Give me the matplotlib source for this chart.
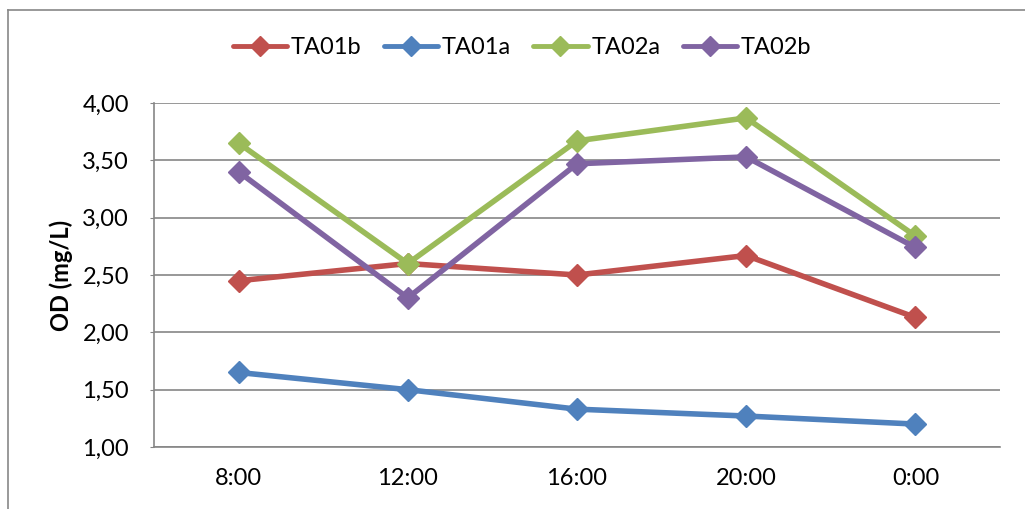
import numpy as np
import matplotlib.pyplot as plt
from matplotlib.lines import Line2D
from matplotlib.ticker import FuncFormatter

plt.rcParams['font.family'] = ['Lato', 'DejaVu Sans']

times = ['8:00', '12:00', '16:00', '20:00', '0:00']
ta01b = [2.45, 2.60, 2.50, 2.67, 2.13]
ta01a = [1.65, 1.50, 1.33, 1.27, 1.20]
ta02a = [3.65, 2.60, 3.67, 3.87, 2.84]
ta02b = [3.40, 2.30, 3.47, 3.53, 2.74]

series = [('TA01b', ta01b, '#C0504D'),
          ('TA01a', ta01a, '#4F81BD'),
          ('TA02a', ta02a, '#9BBB59'),
          ('TA02b', ta02b, '#8064A2')]

fs = 17

fig = plt.figure(figsize=(10.25, 5.09), dpi=100)
ax = fig.add_axes([154/1025, 1 - 447/509, (1000-154)/1025, (447-103)/509])

# outer chart frame (only left + top visible in the crop)
fig.add_artist(Line2D([8/1025, 8/1025], [0, 1 - 10/509], color='#888888', lw=1.2,
                      transform=fig.transFigure))
fig.add_artist(Line2D([8/1025, 1], [1 - 10/509, 1 - 10/509], color='#888888', lw=1.2,
                      transform=fig.transFigure))

x = np.arange(len(times))
for name, vals, col in series:
    ax.plot(x, vals, color=col, lw=4, marker='D', ms=11, mec=col, mfc=col,
            label=name, solid_capstyle='round')

ax.set_xlim(-0.5, len(times) - 0.5)
ax.set_ylim(1.0, 4.0)
ax.set_yticks(np.arange(1.0, 4.01, 0.5))
ax.yaxis.set_major_formatter(FuncFormatter(lambda v, p: f'{v:.2f}'.replace('.', ',')))
ax.set_xticks(x)
ax.set_xticklabels(times)
ax.grid(axis='y', color='#868686', lw=1.2)
ax.set_axisbelow(True)

for s in ['top', 'right']:
    ax.spines[s].set_visible(False)
for s in ['left', 'bottom']:
    ax.spines[s].set_color('#868686')
    ax.spines[s].set_linewidth(1.2)
ax.tick_params(axis='y', length=3, color='#868686', labelsize=fs, pad=15)
ax.tick_params(axis='x', length=0, labelsize=fs, pad=15)

ax.set_ylabel('OD (mg/L)', fontsize=fs, fontweight='bold', labelpad=7)

leg = ax.legend(loc='center', bbox_to_anchor=(522/1025, 1 - 48/509), bbox_transform=fig.transFigure,
                ncol=4, frameon=False, fontsize=fs, handlelength=2.3, columnspacing=0.95,
                handletextpad=0.15, borderpad=0)
for h in leg.legend_handles:
    h.set_markersize(10)
    h.set_linewidth(3.5)

fig.savefig('out.png', dpi=100)
